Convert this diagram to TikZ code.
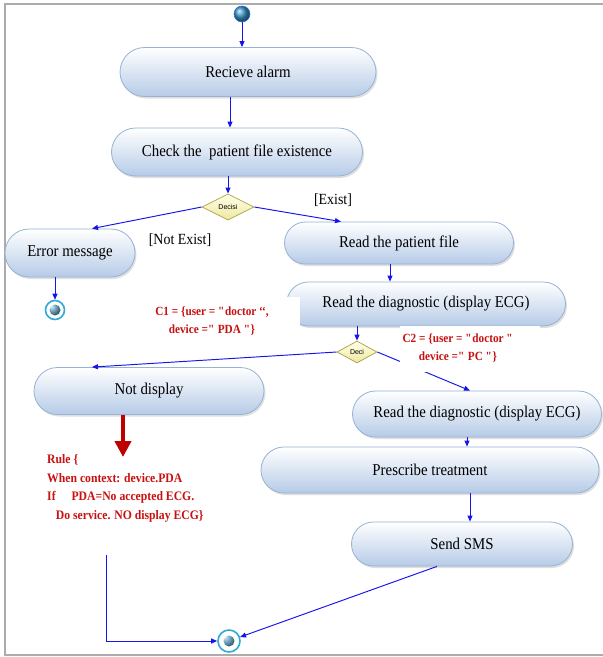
\documentclass[tikz,border=0pt]{standalone}
\usepackage{fontspec}
\setmainfont{Liberation Serif}[FakeStretch=0.9]
\newfontfamily\decfont{Liberation Sans}
\usetikzlibrary{positioning,calc,shapes.misc,shapes.geometric,arrows.meta,shadows}
\definecolor{actline}{RGB}{150,178,212}
\definecolor{actbot}{RGB}{182,203,231}
\definecolor{decline}{RGB}{170,160,60}
\definecolor{decbot}{RGB}{238,232,160}
\definecolor{rulered}{RGB}{200,16,16}
\definecolor{arrred}{RGB}{190,0,0}
\definecolor{ballc}{RGB}{60,150,200}

\begin{document}
\begin{tikzpicture}[x=1pt,y=-1pt,
        act/.style={rounded rectangle, draw=actline, line width=0.8pt,
            top color=white, bottom color=actbot,
            drop shadow={opacity=0.25, shadow xshift=1.5pt, shadow yshift=-2pt},
            font=\fontsize{16.5}{19}\selectfont, inner sep=2pt},
        dec/.style={diamond, draw=decline, line width=0.7pt, top color=yellow!8,
            bottom color=decbot, inner sep=0.5pt, font=\decfont\fontsize{7}{8}\selectfont},
        conn/.style={draw={rgb,255:red,20;green,20;blue,235}, line width=0.95pt,
            -{Triangle[length=6pt,width=5pt]}},
        cond/.style={text=rulered, font=\bfseries\fontsize{12.5}{18}\selectfont, align=center},
        guard/.style={font=\fontsize{15.5}{18}\selectfont},
        endnode/.style={circle, draw=ballc!80!cyan, line width=1.6pt, fill=white, minimum size=19pt,
            path picture={\shade[ball color=ballc!70!gray] (path picture bounding box.center) circle (5.5pt);}}]
        \useasboundingbox (0,0) rectangle (603,657);
        % frame
        \draw[gray!65, line width=1.6pt] (603,4) -- (5,4) -- (5,655) -- (603,655);

        \node[circle, minimum size=16pt, draw=ballc!80!blue, line width=0.6pt,
            shade, ball color=ballc] (start) at (242,14) {};

        \node[act, minimum width=260pt, minimum height=49pt] (alarm) at (248,72) {Recieve alarm};
        \node[act, minimum width=255pt, minimum height=48pt] (check) at (237,152) {Check the\ \ patient file existence};
        \node[dec, minimum width=52pt, minimum height=22pt] (dec1) at (228,207) {Decisi};
        \node[act, minimum width=134pt, minimum height=48pt] (errmsg) at (70,253) {Error message};
        \node[act, minimum width=233pt, minimum height=42pt] (readf) at (399,243) {Read the patient file};
        \node[endnode] (end1) at (55,310) {};
        \node[act, minimum width=283pt, minimum height=44pt] (diag1) at (426,304) {Read the diagnostic (display ECG)};
        \node[dec, minimum width=40pt, minimum height=22pt] (dec2) at (357,352) {Deci};
        \node[act, minimum width=234pt, minimum height=47pt] (nodisp) at (149,391) {Not display};
        \node[act, minimum width=253pt, minimum height=46pt] (diag2) at (477,414) {Read the diagnostic (display ECG)};
        \node[act, minimum width=342pt, minimum height=46pt] (presc) at (430,470) {Prescribe treatment};
        \node[act, minimum width=225pt, minimum height=44pt] (sms) at (462,544) {Send SMS};
        \node[endnode, minimum size=22pt] (end2) at (229,641) {};

        \node[guard] (exist) at (333,200) {[Exist]};
        \node[guard] (notexist) at (180,240) {[Not Exist]};

        \coordinate (rulebot) at (106,555);
        \coordinate (ruletip) at (123,457);

        \draw[conn] (start) -- (start |- alarm.north);
        \draw[conn] ([xshift=-18pt]alarm.south) -- ([xshift=-18pt]alarm.south |- check.north);
        \draw[conn] (check.south -| dec1) -- (dec1.north);
        \draw[conn] (dec1.west) -- ([xshift=22pt]errmsg.north);
        \draw[conn] (dec1.east) -- ([xshift=-58pt]readf.north);
        \draw[conn] (errmsg.south -| end1) -- (end1);
        \draw[conn] ([xshift=-9pt]readf.south) -- ([xshift=-9pt]readf.south |- diag1.north);
        \draw[conn] (diag1.south -| dec2) -- (dec2.north);
        \draw[conn] (dec2.west) -- ([xshift=-57pt]nodisp.north);
        \draw[conn] (dec2.east) -- ([xshift=-7pt]diag2.north);
        \draw[conn] ([xshift=-10pt]diag2.south) -- ([xshift=-10pt]diag2.south |- presc.north);
        \draw[conn] ([xshift=40pt]presc.south) -- ([xshift=40pt]presc.south |- sms.north);
        \draw[conn] ([xshift=-25pt]sms.south) -- (end2);
        \draw[conn] (rulebot) |- (end2.west);

        % rule for the PDA case
        \draw[arrred, line width=4.5pt, -{Triangle[length=16pt,width=16pt]}]
            ([xshift=-26pt]nodisp.south) -- (ruletip);
        \node[text=rulered, font=\bfseries\fontsize{13}{18.8}\selectfont, align=left,
            anchor=north west, inner sep=0pt] (rule) at (47,454)
            {Rule \{\\When context: device.PDA\\If \quad PDA=No accepted ECG.\\\ \ \ Do service. NO display ECG\}};

        % conditions, on white boxes
        \fill[white] (152,297) rectangle (300,348);
        \node[cond] (c1) at (212,321) {C1 = \{user = \textquotedbl doctor ‘{}‘,\\device =\textquotedbl{} PDA \textquotedbl\}};
        \fill[white] (400,326) rectangle (540,372);
        \node[cond] (c2) at (458,348) {C2 = \{user = \textquotedbl doctor \textquotedbl\\device =\textquotedbl{} PC \textquotedbl\}};
        %\draw[red] (150,295) rectangle (302,350);
\end{tikzpicture}
\end{document}
